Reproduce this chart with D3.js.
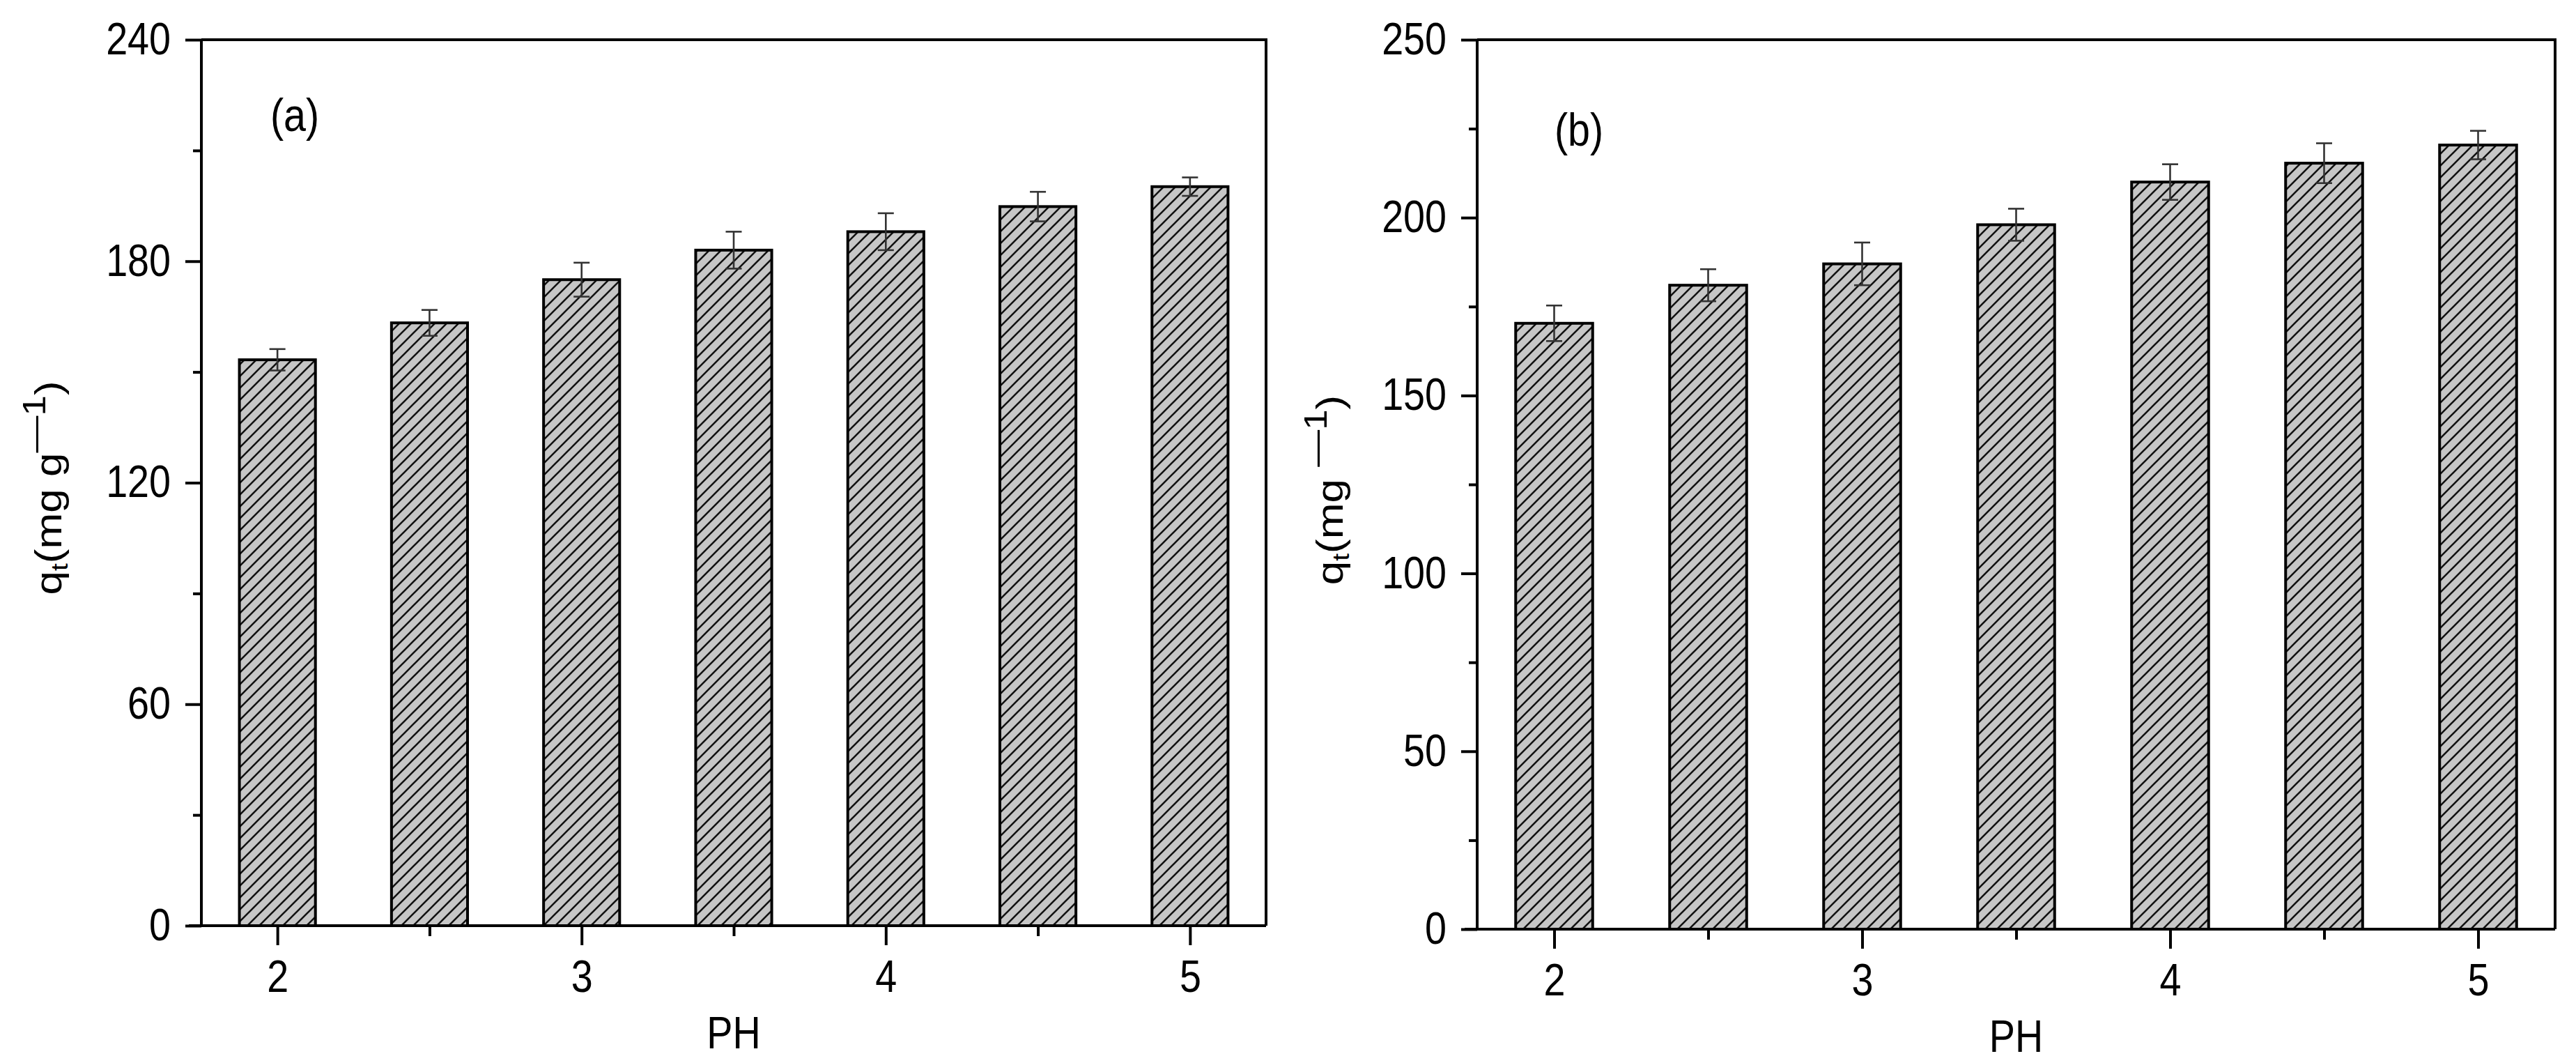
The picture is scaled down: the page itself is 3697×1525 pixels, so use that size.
<!DOCTYPE html>
<html>
<head>
<meta charset="utf-8">
<script src="https://cdn.jsdelivr.net/npm/d3@7"></script>
<style>
  body { margin: 0; background: #fff; }
  svg { display: block; }
  text { font-family: "Liberation Sans", Arial, sans-serif; fill: #000; }
</style>
</head>
<body>
<svg id="chart" width="3697" height="1525"></svg>
<script>
// data
var phValues = [2, 2.5, 3, 3.5, 4, 4.5, 5];
var qtA = [153.3, 163.3, 175.0, 183.0, 188.0, 194.8, 200.2];
var errA = [2.9, 3.5, 4.6, 5.0, 5.0, 4.0, 2.5];
var qtB = [170.3, 181.0, 187.0, 198.0, 210.0, 215.3, 220.4];
var errB = [5.0, 4.5, 6.0, 4.5, 5.0, 5.6, 4.0];
var xMajor = [2, 3, 4, 5];
var xMinor = [2.5, 3.5, 4.5];
var yMajorA = [0, 60, 120, 180, 240];
var yMinorA = [30, 90, 150, 210];
var yMajorB = [0, 50, 100, 150, 200, 250];
var yMinorB = [25, 75, 125, 175, 225];

var svg = d3.select("#chart");
var sx = 0.87; // the figure is stretched upright, so text looks narrow

// hatch pattern
var defs = svg.append("defs");
var pat = defs.append("pattern")
  .attr("id", "hatch")
  .attr("patternUnits", "userSpaceOnUse")
  .attr("width", 17)
  .attr("height", 17);
pat.append("rect").attr("width", 17).attr("height", 17).attr("fill", "#c6c6c6");
pat.append("path")
  .attr("d", "M-4,4 L4,-4 M0,17 L17,0 M13,21 L21,13")
  .attr("stroke", "#111")
  .attr("stroke-width", 2.6);

function panel(opt) {
  var x = d3.scaleLinear().domain([1.75, 5.25]).range([opt.left, opt.right]);
  var y = d3.scaleLinear().domain(opt.yDomain).range([opt.bottom, opt.top]);
  var g = svg.append("g");

  var data = phValues.map(function (d, i) { return { ph: d, v: opt.values[i], e: opt.errors[i] }; });
  var bw = x(2.25) - x(2);

  // bars
  g.selectAll("rect.bar")
    .data(data)
    .enter()
    .append("rect")
    .attr("class", "bar")
    .attr("x", function (d) { return x(d.ph) - bw / 2; })
    .attr("y", function (d) { return y(d.v); })
    .attr("width", bw)
    .attr("height", function (d) { return y(0) - y(d.v); })
    .attr("fill", "url(#hatch)")
    .attr("stroke", "#000")
    .attr("stroke-width", 4);

  // error bars
  var eb = g.selectAll("g.err")
    .data(data)
    .enter()
    .append("g")
    .attr("class", "err")
    .attr("stroke", "#333")
    .attr("stroke-width", 2.6);
  eb.append("line")
    .attr("x1", function (d) { return x(d.ph); })
    .attr("x2", function (d) { return x(d.ph); })
    .attr("y1", function (d) { return y(d.v + d.e); })
    .attr("y2", function (d) { return y(d.v - d.e); });
  eb.append("line")
    .attr("x1", function (d) { return x(d.ph) - 11.5; })
    .attr("x2", function (d) { return x(d.ph) + 11.5; })
    .attr("y1", function (d) { return y(d.v + d.e); })
    .attr("y2", function (d) { return y(d.v + d.e); });
  eb.append("line")
    .attr("x1", function (d) { return x(d.ph) - 11.5; })
    .attr("x2", function (d) { return x(d.ph) + 11.5; })
    .attr("y1", function (d) { return y(d.v - d.e); })
    .attr("y2", function (d) { return y(d.v - d.e); });

  // frame (top + right)
  g.append("path")
    .attr("d", "M" + opt.left + "," + opt.top + "H" + opt.right + "V" + opt.bottom)
    .attr("fill", "none")
    .attr("stroke", "#000")
    .attr("stroke-width", 4);

  // y axis
  var ya = g.append("g")
    .attr("transform", "translate(" + opt.left + ",0)")
    .call(d3.axisLeft(y).tickValues(opt.yMajor).tickSize(23).tickPadding(21));
  g.append("g")
    .attr("transform", "translate(" + opt.left + ",0)")
    .call(d3.axisLeft(y).tickValues(opt.yMinor).tickSize(12).tickFormat(""))
    .select(".domain").remove();

  // x axis
  var xa = g.append("g")
    .attr("transform", "translate(0," + opt.bottom + ")")
    .call(d3.axisBottom(x).tickValues(xMajor).tickSize(28).tickPadding(22).tickFormat(d3.format("d")));
  g.append("g")
    .attr("transform", "translate(0," + opt.bottom + ")")
    .call(d3.axisBottom(x).tickValues(xMinor).tickSize(15).tickFormat(""))
    .select(".domain").remove();

  svg.selectAll(".tick line").attr("stroke-width", 4).attr("stroke", "#000");
  ya.select(".domain").attr("stroke-width", 4).attr("stroke", "#000")
    .attr("d", "M0," + (opt.bottom + 2) + "V" + opt.top);
  xa.select(".domain").attr("stroke-width", 4).attr("stroke", "#000")
    .attr("d", "M" + (opt.left - 18) + ",0H" + opt.right);

  ya.selectAll(".tick text")
    .style("font-size", "64px")
    .attr("transform", "scale(" + sx + ",1)")
    .attr("x", -44 / sx);
  xa.selectAll(".tick text")
    .style("font-size", "64px")
    .attr("transform", "scale(" + sx + ",1)")
    .attr("x", 0);

  // x title
  g.append("text")
    .attr("transform", "translate(" + ((opt.left + opt.right) / 2) + "," + (opt.bottom + 176) + ") scale(" + sx + ",1)")
    .attr("text-anchor", "middle")
    .style("font-size", "64px")
    .text("PH");

  // y title, stretched along its reading direction like the rest of the figure
  var yt = g.append("text")
    .attr("transform", "translate(" + opt.titleX + "," + opt.titleY + ") rotate(-90) scale(1.15,1)")
    .attr("text-anchor", "middle")
    .style("font-size", "54px");
  yt.append("tspan").text("q");
  yt.append("tspan").attr("dy", "0.25em").style("font-size", "34px").text("t");
  yt.append("tspan").attr("dy", "-0.16em").text(opt.unit);
  yt.append("tspan").attr("dy", "-0.5em").style("font-size", "46px").text("\u20141");
  yt.append("tspan").attr("dy", "0.42em").text(")");

  // panel letter
  g.append("text")
    .attr("transform", "translate(" + opt.labelX + "," + opt.labelY + ") scale(" + sx + ",1)")
    .style("font-size", "66px")
    .text(opt.label);
}

panel({
  left: 289, right: 1817, top: 57, bottom: 1328,
  yDomain: [0, 240], yMajor: yMajorA, yMinor: yMinorA,
  values: qtA, errors: errA,
  titleX: 88, titleY: 700, unit: "(mg g", label: "(a)", labelX: 388, labelY: 188
});
panel({
  left: 2120, right: 3667, top: 57, bottom: 1333,
  yDomain: [0, 250], yMajor: yMajorB, yMinor: yMinorB,
  values: qtB, errors: errB,
  titleX: 1927, titleY: 703, unit: "(mg ", label: "(b)", labelX: 2231, labelY: 209
});
</script>
</body>
</html>
